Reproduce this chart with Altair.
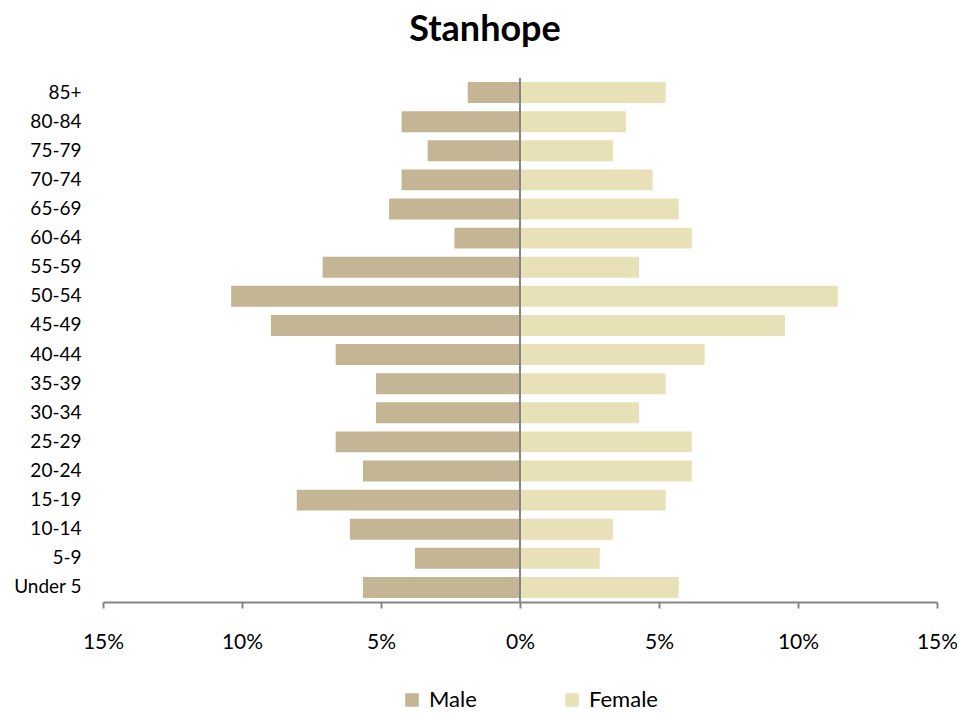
import altair as alt
import pandas as pd

ages = ["85+", "80-84", "75-79", "70-74", "65-69", "60-64", "55-59", "50-54",
        "45-49", "40-44", "35-39", "30-34", "25-29", "20-24", "15-19", "10-14",
        "5-9", "Under 5"]
male = [1.88, 4.26, 3.32, 4.26, 4.71, 2.36, 7.10, 10.39, 8.96, 6.63, 5.18,
        5.18, 6.63, 5.65, 8.03, 6.12, 3.78, 5.65]
female = [5.24, 3.81, 3.34, 4.77, 5.71, 6.18, 4.28, 11.43, 9.53, 6.64, 5.24,
          4.28, 6.18, 6.18, 5.24, 3.34, 2.87, 5.71]
x_ticks = [-15, -10, -5, 0, 5, 10, 15]

rows = []
for a, m, f in zip(ages, male, female):
    rows.append({"age": a, "sex": "Male", "value": -m})
    rows.append({"age": a, "sex": "Female", "value": f})
df = pd.DataFrame(rows)

FONT = "Lato"

bars = alt.Chart(df).mark_bar().encode(
    y=alt.Y("age:N", sort=ages, title=None,
            scale=alt.Scale(paddingInner=0.28, paddingOuter=0.14),
            axis=alt.Axis(domain=False, ticks=False, labelPadding=22,
                          labelFontSize=19, labelFont=FONT, labelColor="#000000")),
    x=alt.X("value:Q", title=None,
            scale=alt.Scale(domain=[-15, 15], nice=False),
            axis=alt.Axis(values=x_ticks, labelExpr="abs(datum.value) + '%'",
                          grid=False, domainColor="#868686", domainWidth=2,
                          tickColor="#868686", tickWidth=2, tickSize=6,
                          labelFlush=False, labelOverlap=False,
                          labelPadding=23, labelFontSize=21, labelFont=FONT,
                          labelColor="#000000")),
    color=alt.Color("sex:N",
                    scale=alt.Scale(domain=["Male", "Female"],
                                    range=["#C4B594", "#E8E1B7"]),
                    legend=alt.Legend(title=None, orient="none", direction="horizontal",
                                      legendX=298, legendY=611, symbolType="square",
                                      symbolSize=185, symbolStrokeWidth=0,
                                      labelFontSize=22, labelFont=FONT,
                                      labelColor="#000000", labelOffset=6,
                                      columnPadding=63, gridAlign="all", padding=0)),
)

zero = alt.Chart(pd.DataFrame({"x": [0]})).mark_rule(color="#868686", strokeWidth=2).encode(
    x="x:Q"
)

chart = alt.layer(bars, zero).properties(
    width=834,
    height=524,
    title=alt.TitleParams("Stanhope", font=FONT, fontSize=36, fontWeight="bold",
                          color="#000000", anchor="middle", dx=-35, offset=28),
    autosize=alt.AutoSizeParams(type="none"),
    padding={"left": 95, "top": 70, "right": 20, "bottom": 112},
).configure_view(stroke=None)

chart.save("out.html", embed_options={"renderer": "svg", "actions": False})
